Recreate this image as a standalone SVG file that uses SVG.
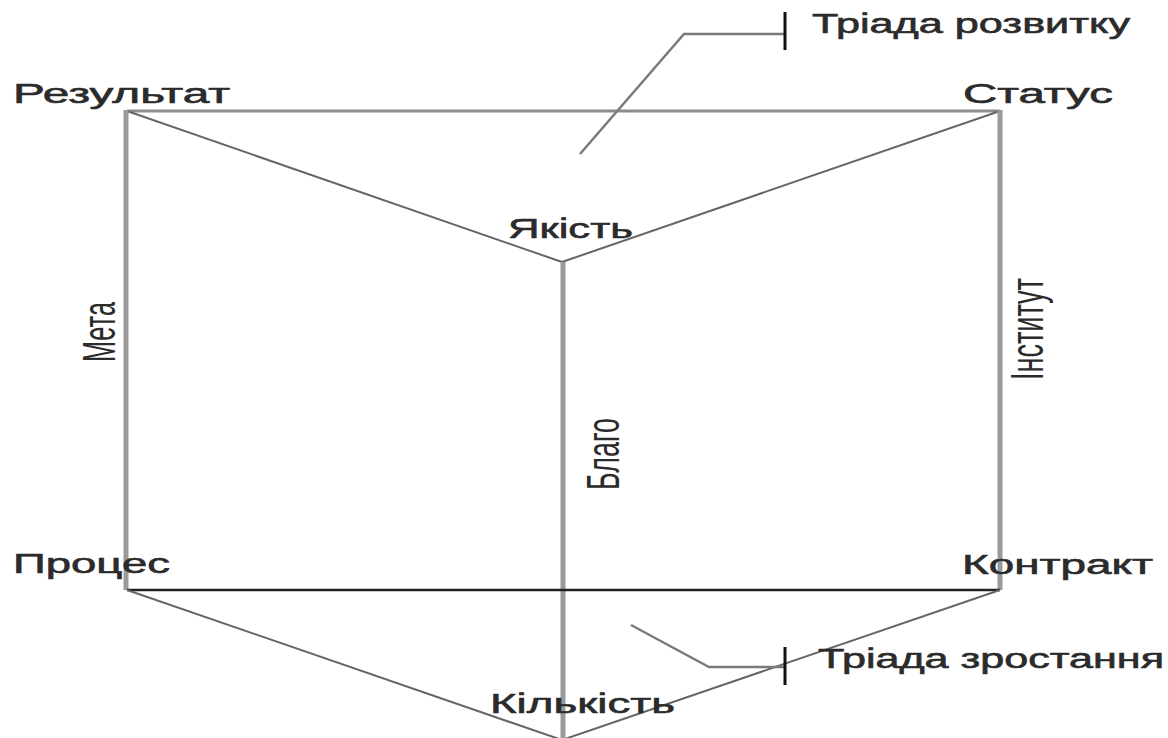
<svg xmlns="http://www.w3.org/2000/svg" width="1168" height="738" viewBox="0 0 1168 738">
<style>
.lbl{font-family:"Liberation Sans",Arial,sans-serif;font-size:27px;fill:#2b2b2b;stroke:#2b2b2b;stroke-width:0.6;}
.vl{font-family:"Liberation Sans",Arial,sans-serif;font-size:47px;fill:#2b2b2b;}
.thick{stroke:#9a9a9a;stroke-width:5;fill:none;}
.thin{stroke:#666;stroke-width:2;fill:none;}
.top{stroke:#8c8c8c;stroke-width:3;fill:none;}
.bot{stroke:#222;stroke-width:2.5;fill:none;}
.lead{stroke:#7a7a7a;stroke-width:2.5;fill:none;}
.tick{stroke:#111;stroke-width:3;fill:none;}
</style>
<rect width="1168" height="738" fill="#fff"/>
<g id="connectors">
<line class="top" x1="127" y1="111" x2="1000" y2="111"/>
<line class="thin" x1="127" y1="111" x2="562" y2="262"/>
<line class="thin" x1="1000" y1="111" x2="562" y2="262"/>
<line class="thick" x1="126" y1="110" x2="126" y2="590"/>
<line class="thick" x1="1000" y1="110" x2="1000" y2="590"/>
<line class="thick" x1="563" y1="262" x2="563" y2="738"/>
<line class="bot" x1="127" y1="590" x2="1000" y2="590"/>
<line class="thin" x1="127" y1="590" x2="562" y2="740"/>
<line class="thin" x1="1000" y1="590" x2="562" y2="740"/>
<polyline class="lead" points="580,154 684,34 784,34"/>
<line class="tick" x1="785" y1="12" x2="785" y2="50"/>
<polyline class="lead" points="631,625 709,667 784,667"/>
<line class="tick" x1="785" y1="647" x2="785" y2="685"/>
</g>
<g id="n-rezultat"><text class="lbl" x="13" y="103" textLength="217" lengthAdjust="spacingAndGlyphs">Результат</text></g>
<g id="n-status"><text class="lbl" x="963" y="103" textLength="150" lengthAdjust="spacingAndGlyphs">Статус</text></g>
<g id="n-yakist"><text class="lbl" x="508" y="238" textLength="125" lengthAdjust="spacingAndGlyphs">Якість</text></g>
<g id="n-protses"><text class="lbl" x="13" y="573" textLength="157" lengthAdjust="spacingAndGlyphs">Процес</text></g>
<g id="n-kontrakt"><text class="lbl" x="962" y="574" textLength="191" lengthAdjust="spacingAndGlyphs">Контракт</text></g>
<g id="n-kilkist"><text class="lbl" x="490" y="713" textLength="185" lengthAdjust="spacingAndGlyphs">Кількість</text></g>
<g id="n-triada-rozvytku"><text class="lbl" x="812" y="33" textLength="318" lengthAdjust="spacingAndGlyphs">Тріада розвитку</text></g>
<g id="n-triada-zrostannia"><text class="lbl" x="818" y="668" textLength="346" lengthAdjust="spacingAndGlyphs">Тріада зростання</text></g>
<g id="n-meta"><text class="vl" x="115" y="362" transform="rotate(-90 115 362)" textLength="60" lengthAdjust="spacingAndGlyphs">Мета</text></g>
<g id="n-blago"><text class="vl" x="619" y="490" transform="rotate(-90 619 490)" textLength="72" lengthAdjust="spacingAndGlyphs">Благо</text></g>
<g id="n-instytut"><text class="vl" x="1043" y="380" transform="rotate(-90 1043 380)" textLength="102" lengthAdjust="spacingAndGlyphs">Інститут</text></g>
</svg>
